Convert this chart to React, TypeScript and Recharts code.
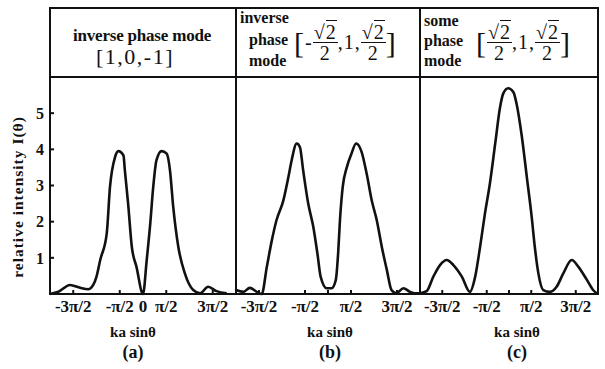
import React from 'react';
import { Line, LineChart, XAxis, YAxis } from 'recharts';

// x in units of pi (ka sin theta / pi), y = relative intensity
const xA = [-2, -1.82, -1.57, -1.35, -1.18, -1.07, -1.0, -0.92, -0.78, -0.71, -0.6, -0.53, -0.42, -0.39, -0.32, -0.24, -0.14, 0, 0.08, 0.15, 0.22, 0.29, 0.4, 0.51, 0.58, 0.65, 0.76, 0.9, 1.08, 1.23, 1.4, 1.58, 1.8];
const yA = [0, 0.06, 0.25, 0.17, 0.13, 0.25, 0.48, 0.94, 1.67, 2.96, 3.79, 3.95, 3.83, 3.42, 2.5, 1.3, 0.75, 0, 0.94, 1.86, 2.96, 3.7, 3.95, 3.88, 3.42, 2.41, 1.3, 0.57, 0.11, 0.02, 0.2, 0.08, 0.02];

const xB = [-2, -1.84, -1.7, -1.55, -1.44, -1.33, -1.22, -1.12, -0.97, -0.86, -0.79, -0.68, -0.61, -0.54, -0.43, -0.32, -0.23, -0.16, -0.03, 0.08, 0.17, 0.22, 0.26, 0.32, 0.41, 0.51, 0.61, 0.73, 0.84, 0.95, 1.06, 1.17, 1.28, 1.38, 1.49, 1.64, 1.78, 1.89, 2];
const yB = [0.11, 0.06, 0.17, 0.06, 0, 0.75, 1.49, 2.04, 2.59, 3.24, 3.7, 4.16, 4.06, 3.42, 2.5, 1.86, 1.12, 0.48, 0.16, 0.16, 0.39, 1.12, 2.04, 2.96, 3.51, 3.88, 4.16, 3.93, 3.33, 2.59, 2.04, 1.3, 0.66, 0.11, 0.02, 0.16, 0.06, 0.02, 0.02];

const xC = [-2, -1.85, -1.7, -1.55, -1.4, -1.25, -1.06, -0.88, -0.76, -0.65, -0.54, -0.43, -0.31, -0.2, -0.13, -0.02, 0.1, 0.17, 0.29, 0.4, 0.51, 0.58, 0.66, 0.77, 0.92, 1.07, 1.22, 1.41, 1.56, 1.75, 1.89, 1.97];
const yC = [0.02, 0.08, 0.48, 0.8, 0.94, 0.8, 0.48, 0.06, 0.48, 1.3, 2.23, 3.05, 4.16, 5.17, 5.54, 5.69, 5.58, 5.26, 4.34, 3.24, 2.13, 1.3, 0.57, 0.11, 0.06, 0.2, 0.57, 0.94, 0.75, 0.39, 0.11, 0.02];

const xTicks = [-1.5, -0.5, 0, 0.5, 1.5];
const xTickLabels = ['-3π/2', '-π/2', '0', 'π/2', '3π/2'];
const xTickLabelsNoZero = ['-3π/2', '-π/2', '', 'π/2', '3π/2'];
const yTicks = [1, 2, 3, 4, 5];

const FONT = '"Liberation Serif", "DejaVu Serif", serif';
const INK = '#111';

const zip = (xs: number[], ys: number[]) => xs.map((x, i) => ({ x, y: ys[i] }));

function Panel({ data, left, width, showY, labels }: { data: { x: number; y: number }[]; left: number; width: number; showY: boolean; labels: string[] }) {
  const yW = showY ? 50 : 0;
  return (
    <div style={{ position: 'absolute', left, top: 70 }}>
      <LineChart width={width} height={254} data={data} margin={{ top: 7, right: 0, bottom: 0, left: 0 }}>
        <XAxis
          type="number"
          dataKey="x"
          domain={[-2, 2]}
          ticks={xTicks}
          tickFormatter={(v) => labels[xTicks.indexOf(v)]}
          tickSize={-4}
          tickMargin={10}
          height={30}
          stroke={INK}
          strokeWidth={2}
          tick={{ fontSize: 17, fill: INK, fontFamily: FONT, fontWeight: 'bold' }}
          interval={0}
        />
        <YAxis
          type="number"
          domain={[0, 6]}
          ticks={yTicks}
          width={yW}
          tickSize={-4}
          tickMargin={10}
          stroke={INK}
          strokeWidth={2}
          tick={showY ? { fontSize: 16, fill: INK, fontFamily: FONT, fontWeight: 'bold' } : false}
        />
        <Line type="monotone" dataKey="y" stroke={INK} strokeWidth={2.6} dot={false} isAnimationActive={false} />
      </LineChart>
    </div>
  );
}

function Frac({ neg }: { neg?: boolean }) {
  return (
    <span style={{ display: 'inline-flex', alignItems: 'center' }}>
      {neg ? '-' : ''}
      <span style={{ display: 'inline-flex', flexDirection: 'column', alignItems: 'center', lineHeight: '20px' }}>
        <span style={{ borderBottom: `1.8px solid ${INK}`, padding: '0 1px' }}>
          √<span style={{ borderTop: `1.5px solid ${INK}` }}>2</span>
        </span>
        <span>2</span>
      </span>
    </span>
  );
}

function Bracket({ neg }: { neg?: boolean }) {
  return (
    <span style={{ display: 'inline-flex', alignItems: 'center', fontSize: 20, letterSpacing: 1 }}>
      <span style={{ fontSize: 30 }}>[</span>
      <Frac neg={neg} />,1,
      <Frac />
      <span style={{ fontSize: 30 }}>]</span>
    </span>
  );
}

const line = (s: React.CSSProperties): React.CSSProperties => ({ position: 'absolute', background: INK, ...s });

export default function App() {
  const text: React.CSSProperties = { position: 'absolute', fontFamily: FONT, color: INK, whiteSpace: 'nowrap' };
  return (
    <div style={{ position: 'absolute', left: 0, top: 0, width: 605, height: 369, background: '#fff', fontFamily: FONT }}>
      <Panel data={zip(xA, yA)} left={0} width={236} showY labels={xTickLabels} />
      <Panel data={zip(xB, yB)} left={236} width={184} showY={false} labels={xTickLabelsNoZero} />
      <Panel data={zip(xC, yC)} left={420} width={178} showY={false} labels={xTickLabelsNoZero} />

      {/* frame */}
      <div style={line({ left: 49, top: 7, width: 550, height: 2 })} />
      <div style={line({ left: 49, top: 76, width: 550, height: 2 })} />
      <div style={line({ left: 49, top: 7, width: 2, height: 288 })} />
      <div style={line({ left: 235, top: 7, width: 2, height: 288 })} />
      <div style={line({ left: 419, top: 7, width: 2, height: 288 })} />
      <div style={line({ left: 597, top: 7, width: 2, height: 288 })} />

      {/* headers */}
      <div style={{ ...text, left: 52, width: 180, top: 26, textAlign: 'center', fontSize: 17, fontWeight: 'bold', letterSpacing: -0.2 }}>inverse phase mode</div>
      <div style={{ ...text, left: 50, width: 170, top: 44, textAlign: 'center', fontSize: 22, letterSpacing: 1.5 }}>[1,0,-1]</div>

      <div style={{ ...text, left: 240, top: 8, fontSize: 16, fontWeight: 'bold', lineHeight: '20px' }}>inverse</div>
      <div style={{ ...text, left: 249, top: 30, fontSize: 16, fontWeight: 'bold', lineHeight: '20px' }}>phase</div>
      <div style={{ ...text, left: 249, top: 51, fontSize: 16, fontWeight: 'bold', lineHeight: '20px' }}>mode</div>
      <div style={{ ...text, left: 294, top: 22 }}><Bracket neg /></div>

      <div style={{ ...text, left: 424, top: 11, fontSize: 16, fontWeight: 'bold', lineHeight: '20px' }}>some</div>
      <div style={{ ...text, left: 424, top: 31, fontSize: 16, fontWeight: 'bold', lineHeight: '20px' }}>phase</div>
      <div style={{ ...text, left: 424, top: 51, fontSize: 16, fontWeight: 'bold', lineHeight: '20px' }}>mode</div>
      <div style={{ ...text, left: 476, top: 22 }}><Bracket /></div>

      {/* y title */}
      <div style={{ ...text, left: 18, top: 197, fontSize: 15.5, fontWeight: 'bold', letterSpacing: 1, transform: 'translate(-50%, -50%) rotate(-90deg)' }}>
        relative intensity I(θ)
      </div>

      {/* x titles */}
      {[
        { c: 133, s: '(a)' },
        { c: 330, s: '(b)' },
        { c: 517, s: '(c)' },
      ].map((p) => (
        <React.Fragment key={p.s}>
          <div style={{ ...text, left: p.c - 50, width: 100, top: 324, textAlign: 'center', fontSize: 15, fontWeight: 'bold' }}>ka sinθ</div>
          <div style={{ ...text, left: p.c - 50, width: 100, top: 342, textAlign: 'center', fontSize: 18, fontWeight: 'bold' }}>{p.s}</div>
        </React.Fragment>
      ))}
    </div>
  );
}
